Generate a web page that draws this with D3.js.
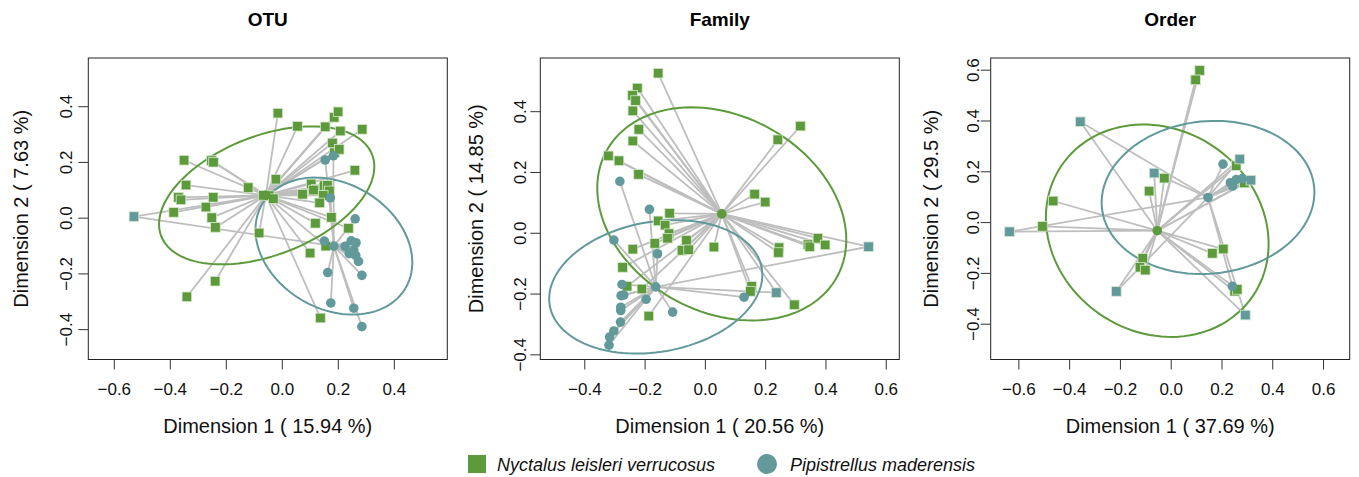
<!DOCTYPE html>
<html>
<head>
<meta charset="utf-8">
<script src="https://cdn.jsdelivr.net/npm/d3@7"></script>
<style>
  body { margin: 0; background: #fff; }
  svg { font-family: "Liberation Sans", Arial, Helvetica, sans-serif; }
</style>
</head>
<body>
<svg id="chart" width="1359" height="477"></svg>
<script>
// group names (legend)
var groups = ["Nyctalus leisleri verrucosus", "Pipistrellus maderensis"];
var green = "#5c9a3c", teal = "#62999a";

// ---- OTU ----
var otuNyct = [[-0.014,0.375],[0.056,0.328],[0.155,0.326],[0.187,0.360],[0.201,0.380],[0.209,0.311],[0.287,0.317],
  [0.181,0.268],[0.188,0.233],[0.205,0.245],[0.261,0.170],[-0.349,0.206],[-0.251,0.205],[-0.244,0.199],[-0.342,0.117],
  [-0.120,0.108],[-0.021,0.138],[-0.369,0.073],[-0.360,0.064],[-0.245,0.073],[-0.271,0.038],[-0.386,0.019],[-0.250,0.000],
  [-0.237,-0.035],[-0.081,-0.055],[-0.238,-0.228],[-0.339,-0.284],[-0.066,0.080],[-0.045,0.079],[-0.030,0.068],
  [0.105,0.121],[0.123,0.102],[0.113,0.099],[0.074,0.084],[0.151,0.115],[0.163,0.116],[0.170,0.096],[0.148,0.080],
  [0.135,0.053],[0.177,0.001],[0.120,-0.020],[0.238,-0.038],[0.157,-0.102],[0.101,-0.127],[0.138,-0.360]];
var otuPipi = [[0.155,0.207],[0.184,0.222],[0.173,0.071],[0.262,-0.004],[0.152,-0.084],[0.226,-0.103],[0.248,-0.083],
  [0.265,-0.090],[0.257,-0.116],[0.241,-0.129],[0.264,-0.135],[0.274,-0.157],[0.164,-0.197],[0.286,-0.207],
  [0.175,-0.306],[0.257,-0.325],[0.286,-0.391]];
var otuShared = [[-0.528,0.004]];
var otuCentroids = [[-0.057,0.080],[0.186,-0.102]];
// ellipse: cx, cy, semi-major, semi-minor, angle (deg)
var otuEllipses = [[-0.054,0.080,0.404,0.214,21.3],[0.186,-0.102,0.297,0.225,-30.7]];

// ---- Family ----
var famNyct = [[-0.155,0.525],[-0.224,0.476],[-0.240,0.452],[-0.230,0.435],[-0.239,0.401],[-0.219,0.340],[-0.239,0.302],
  [-0.320,0.253],[-0.285,0.237],[-0.220,0.192],[0.317,0.351],[0.242,0.306],[0.165,0.127],[0.200,0.101],[-0.117,0.064],
  [-0.155,0.039],[-0.132,0.025],[-0.119,-0.003],[-0.124,-0.018],[-0.166,-0.035],[-0.061,-0.025],[-0.076,-0.058],
  [-0.054,-0.056],[0.030,-0.047],[-0.239,-0.054],[-0.273,-0.114],[-0.258,-0.176],[-0.209,-0.185],[-0.186,-0.274],
  [0.246,-0.049],[0.244,-0.065],[0.342,-0.039],[0.348,-0.046],[0.375,-0.018],[0.399,-0.040],[0.155,-0.176],
  [0.151,-0.193],[0.297,-0.237]];
var famPipi = [[-0.282,0.169],[-0.184,0.077],[-0.302,-0.024],[-0.157,-0.069],[-0.275,-0.170],[-0.278,-0.207],
  [-0.269,-0.205],[-0.195,-0.219],[-0.279,-0.245],[-0.279,-0.256],[-0.107,-0.261],[0.130,-0.212],[-0.280,-0.294],
  [-0.302,-0.323],[-0.316,-0.343],[-0.318,-0.370]];
var famShared = [[0.543,-0.046],[0.237,-0.197]];
var famCentroids = [[0.056,0.062],[-0.163,-0.178]];
var famEllipses = [[0.056,0.062,0.435,0.323,-27.9],[-0.163,-0.178,0.357,0.214,9.9]];

// ---- Order ----
var ordNyct = [[0.114,0.597],[0.098,0.560],[-0.025,0.173],[-0.085,0.122],[0.258,0.222],[0.290,0.154],[-0.463,0.083],
  [-0.505,-0.017],[0.207,-0.106],[0.164,-0.123],[-0.110,-0.143],[-0.121,-0.178],[-0.100,-0.189],[0.252,-0.272],
  [0.262,-0.265]];
var ordPipi = [[0.206,0.228],[0.235,0.155],[0.244,0.142],[0.258,0.167],[0.282,0.171],[0.243,-0.253]];
var ordShared = [[-0.356,0.395],[-0.065,0.193],[0.272,0.248],[0.316,0.165],[-0.635,-0.038],[-0.214,-0.273],[0.294,-0.366]];
var ordCentroids = [[-0.053,-0.034],[0.147,0.097]];
var ordEllipses = [[-0.053,-0.034,0.456,0.399,-34.4],[0.147,0.097,0.420,0.300,5.6]];

var panels = [
  {title: "OTU", xlab: "Dimension 1 ( 15.94 %)", ylab: "Dimension 2 ( 7.63 %)",
   left: 88.3, right: 447.3, xd: [-0.691, 0.591], yd: [-0.509, 0.573],
   xt: [-0.6,-0.4,-0.2,0,0.2,0.4], yt: [-0.4,-0.2,0,0.2,0.4], lab: 16, tit: 60,
   nyct: otuNyct, pipi: otuPipi, shared: otuShared, cent: otuCentroids, ell: otuEllipses},
  {title: "Family", xlab: "Dimension 1 ( 20.56 %)", ylab: "Dimension 2 ( 14.85 %)",
   left: 540.3, right: 899.3, xd: [-0.546, 0.645], yd: [-0.417, 0.575],
   xt: [-0.4,-0.2,0,0.2,0.4,0.6], yt: [-0.4,-0.2,0,0.2,0.4], lab: 14, tit: 57,
   nyct: famNyct, pipi: famPipi, shared: famShared, cent: famCentroids, ell: famEllipses},
  {title: "Order", xlab: "Dimension 1 ( 37.69 %)", ylab: "Dimension 2 ( 29.5 %)",
   left: 990.7, right: 1349.7, xd: [-0.709, 0.705], yd: [-0.541, 0.646],
   xt: [-0.6,-0.4,-0.2,0,0.2,0.4,0.6], yt: [-0.4,-0.2,0,0.2,0.4,0.6], lab: 12, tit: 53,
   nyct: ordNyct, pipi: ordPipi, shared: ordShared, cent: ordCentroids, ell: ordEllipses}
];

var svg = d3.select("#chart");
var plotTop = 58, plotBottom = 359.5;
var fmt = function (d) { return d3.format(".1f")(d).replace("-", "\u2212"); };

panels.forEach(function (p) {
  var x = d3.scaleLinear().domain(p.xd).range([p.left, p.right]);
  var y = d3.scaleLinear().domain(p.yd).range([plotBottom, plotTop]);
  var g = svg.append("g");

  // spokes to centroids
  var spokes = [];
  p.nyct.forEach(function (d) { spokes.push([d, p.cent[0]]); });
  p.pipi.forEach(function (d) { spokes.push([d, p.cent[1]]); });
  p.shared.forEach(function (d) { spokes.push([d, p.cent[0]]); spokes.push([d, p.cent[1]]); });
  g.selectAll(".spoke").data(spokes).enter().append("line")
    .attr("x1", function (d) { return x(d[0][0]); })
    .attr("y1", function (d) { return y(d[0][1]); })
    .attr("x2", function (d) { return x(d[1][0]); })
    .attr("y2", function (d) { return y(d[1][1]); })
    .attr("stroke", "#bebebe").attr("stroke-width", 1.8);

  // ellipses
  var line = d3.line().x(function (d) { return x(d[0]); }).y(function (d) { return y(d[1]); });
  p.ell.forEach(function (e, i) {
    var th = e[4] * Math.PI / 180, pts = [];
    for (var k = 0; k <= 120; k++) {
      var t = k / 120 * 2 * Math.PI;
      pts.push([e[0] + e[2] * Math.cos(t) * Math.cos(th) - e[3] * Math.sin(t) * Math.sin(th),
                e[1] + e[2] * Math.cos(t) * Math.sin(th) + e[3] * Math.sin(t) * Math.cos(th)]);
    }
    g.append("path").attr("d", line(pts)).attr("fill", "none")
      .attr("stroke", i === 0 ? green : teal).attr("stroke-width", 2);
  });

  // points
  var s = 9.6;
  g.selectAll(".nyct").data(p.nyct).enter().append("rect")
    .attr("x", function (d) { return x(d[0]) - s / 2; })
    .attr("y", function (d) { return y(d[1]) - s / 2; })
    .attr("width", s).attr("height", s)
    .attr("fill", green).attr("stroke", "#d6e6cc").attr("stroke-width", 0.8);
  g.selectAll(".shared").data(p.shared).enter().append("rect")
    .attr("x", function (d) { return x(d[0]) - s / 2; })
    .attr("y", function (d) { return y(d[1]) - s / 2; })
    .attr("width", s).attr("height", s)
    .attr("fill", teal).attr("stroke", "#d6e6cc").attr("stroke-width", 0.8);
  g.selectAll(".pipi").data(p.pipi).enter().append("circle")
    .attr("cx", function (d) { return x(d[0]); })
    .attr("cy", function (d) { return y(d[1]); })
    .attr("r", 4.8).attr("fill", teal);
  g.selectAll(".cent").data(p.cent).enter().append("circle")
    .attr("cx", function (d) { return x(d[0]); })
    .attr("cy", function (d) { return y(d[1]); })
    .attr("r", 4.8).attr("fill", function (d, i) { return i === 0 ? green : teal; });

  // box
  g.append("rect").attr("x", p.left).attr("y", plotTop)
    .attr("width", p.right - p.left).attr("height", plotBottom - plotTop)
    .attr("fill", "none").attr("stroke", "#222").attr("stroke-width", 1);

  // x axis
  var xa = g.append("g").attr("transform", "translate(0," + plotBottom + ")")
    .call(d3.axisBottom(x).tickValues(p.xt).tickFormat(fmt).tickSize(10).tickPadding(0));
  xa.attr("font-family", null).attr("font-size", 17);
  xa.select(".domain").remove();
  xa.selectAll("line").attr("stroke", "#333");
  xa.selectAll("text").attr("dy", null).attr("y", 35.5).attr("fill", "#111");

  // y axis
  var ya = g.append("g").attr("transform", "translate(" + p.left + ",0)")
    .call(d3.axisLeft(y).tickValues(p.yt).tickFormat(fmt).tickSize(10));
  ya.attr("font-family", null).attr("font-size", 17);
  ya.select(".domain").remove();
  ya.selectAll("line").attr("stroke", "#333");
  ya.selectAll("text").attr("x", null).attr("dy", null)
    .attr("transform", "translate(" + (-p.lab) + ",0) rotate(-90)")
    .attr("text-anchor", "middle").attr("fill", "#111");

  // titles
  g.append("text").attr("x", (p.left + p.right) / 2).attr("y", 26)
    .attr("text-anchor", "middle").attr("font-weight", "bold").attr("font-size", 19).text(p.title);
  g.append("text").attr("x", (p.left + p.right) / 2).attr("y", 432.5)
    .attr("text-anchor", "middle").attr("font-size", 20).attr("fill", "#111").text(p.xlab);
  g.append("text").attr("transform", "translate(" + (p.left - p.tit) + "," + ((plotTop + plotBottom) / 2) + ") rotate(-90)")
    .attr("text-anchor", "middle").attr("font-size", 20).attr("fill", "#111").text(p.ylab);
});

// legend
var lg = svg.append("g");
lg.append("rect").attr("x", 468).attr("y", 455).attr("width", 18).attr("height", 18).attr("fill", green);
lg.append("text").attr("x", 497).attr("y", 470.5).attr("font-size", 18).attr("font-style", "italic")
  .attr("fill", "#111").text(groups[0]);
lg.append("circle").attr("cx", 767).attr("cy", 464).attr("r", 10).attr("fill", teal);
lg.append("text").attr("x", 790).attr("y", 470.5).attr("font-size", 18).attr("font-style", "italic")
  .attr("fill", "#111").text(groups[1]);
</script>
</body>
</html>
